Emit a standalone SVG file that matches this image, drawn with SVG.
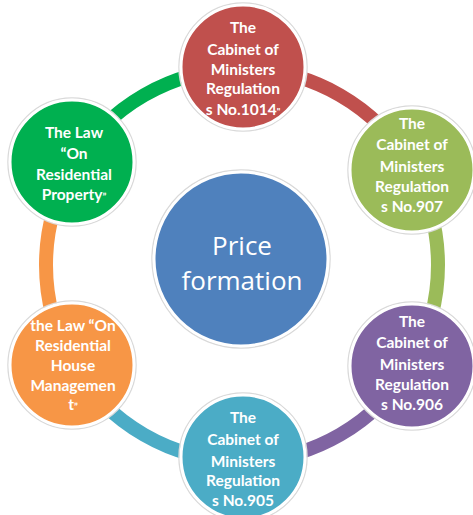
<svg xmlns="http://www.w3.org/2000/svg" width="473" height="515" viewBox="0 0 473 515">
  <style>
    .ring { fill: none; stroke-width: 14; }
    .halo { fill: none; stroke: #d9d9d9; stroke-width: 1.5; }
    .disc { stroke: #ffffff; stroke-width: 3; }
    .lbl { font-family: Lato, "Liberation Sans", sans-serif; font-weight: bold; font-size: 15.5px; fill: #ffffff; text-anchor: middle; }
    .hub { font-family: "Open Sans", "Liberation Sans", sans-serif; font-size: 26px; fill: #ffffff; text-anchor: middle; }
  </style>
  <rect width="473" height="515" fill="#ffffff"/>

  <!-- ring segments, each in the colour of the node it leaves -->
  <g id="connectors">
    <path class="ring" stroke="#C0504D" d="M242 69 A196 196 0 0 1 411.74 167"/>
    <path class="ring" stroke="#9BBB59" d="M411.74 167 A196 196 0 0 1 411.74 363"/>
    <path class="ring" stroke="#8064A2" d="M411.74 363 A196 196 0 0 1 242 461"/>
    <path class="ring" stroke="#4BACC6" d="M242 461 A196 196 0 0 1 72.26 363"/>
    <path class="ring" stroke="#F79646" d="M72.26 363 A196 196 0 0 1 72.26 167"/>
    <path class="ring" stroke="#00B050" d="M72.26 167 A196 196 0 0 1 242 69"/>
  </g>

  <g id="hub">
    <circle class="halo" cx="241" cy="259" r="89"/>
    <circle class="disc" cx="241" cy="259" r="87" fill="#4F81BD"/>
    <text class="hub" x="242" y="255">Price</text>
    <text class="hub" x="242" y="290">formation</text>
  </g>

  <g id="reg1014">
    <circle class="halo" cx="243" cy="67" r="64"/>
    <circle class="disc" cx="243" cy="67" r="62" fill="#C0504D"/>
    <text class="lbl" x="243" y="33">The</text>
    <text class="lbl" x="243" y="55">Cabinet of</text>
    <text class="lbl" x="243" y="75">Ministers</text>
    <text class="lbl" x="243" y="94">Regulation</text>
    <text class="lbl" x="243" y="115">s No.1014<tspan font-size="9px">"</tspan></text>
  </g>

  <g id="reg907">
    <circle class="halo" cx="412" cy="170" r="64"/>
    <circle class="disc" cx="412" cy="170" r="62" fill="#9BBB59"/>
    <text class="lbl" x="412" y="129">The</text>
    <text class="lbl" x="412" y="150">Cabinet of</text>
    <text class="lbl" x="412" y="172">Ministers</text>
    <text class="lbl" x="412" y="192">Regulation</text>
    <text class="lbl" x="412" y="212">s No.907</text>
  </g>

  <g id="reg906">
    <circle class="halo" cx="412" cy="366" r="64"/>
    <circle class="disc" cx="412" cy="366" r="62" fill="#8064A2"/>
    <text class="lbl" x="412" y="327">The</text>
    <text class="lbl" x="412" y="348">Cabinet of</text>
    <text class="lbl" x="412" y="370">Ministers</text>
    <text class="lbl" x="412" y="390">Regulation</text>
    <text class="lbl" x="412" y="410">s No.906</text>
  </g>

  <g id="reg905">
    <circle class="halo" cx="243" cy="457" r="64"/>
    <circle class="disc" cx="243" cy="457" r="62" fill="#4BACC6"/>
    <text class="lbl" x="243" y="423">The</text>
    <text class="lbl" x="243" y="445">Cabinet of</text>
    <text class="lbl" x="243" y="467">Ministers</text>
    <text class="lbl" x="243" y="486">Regulation</text>
    <text class="lbl" x="243" y="506">s No.905</text>
  </g>

  <g id="housemgmt">
    <circle class="halo" cx="72" cy="365" r="64"/>
    <circle class="disc" cx="72" cy="365" r="62" fill="#F79646"/>
    <text class="lbl" x="73" y="331">the Law “On</text>
    <text class="lbl" x="73" y="351">Residential</text>
    <text class="lbl" x="73" y="371">House</text>
    <text class="lbl" x="73" y="391">Managemen</text>
    <text class="lbl" x="73" y="410">t<tspan font-size="10px">”</tspan></text>
  </g>

  <g id="resproperty">
    <circle class="halo" cx="72" cy="162" r="64"/>
    <circle class="disc" cx="72" cy="162" r="62" fill="#00B050"/>
    <text class="lbl" x="74" y="138">The Law</text>
    <text class="lbl" x="74" y="159">“On</text>
    <text class="lbl" x="74" y="180">Residential</text>
    <text class="lbl" x="74" y="200">Property<tspan font-size="10px">”</tspan></text>
  </g>
</svg>
